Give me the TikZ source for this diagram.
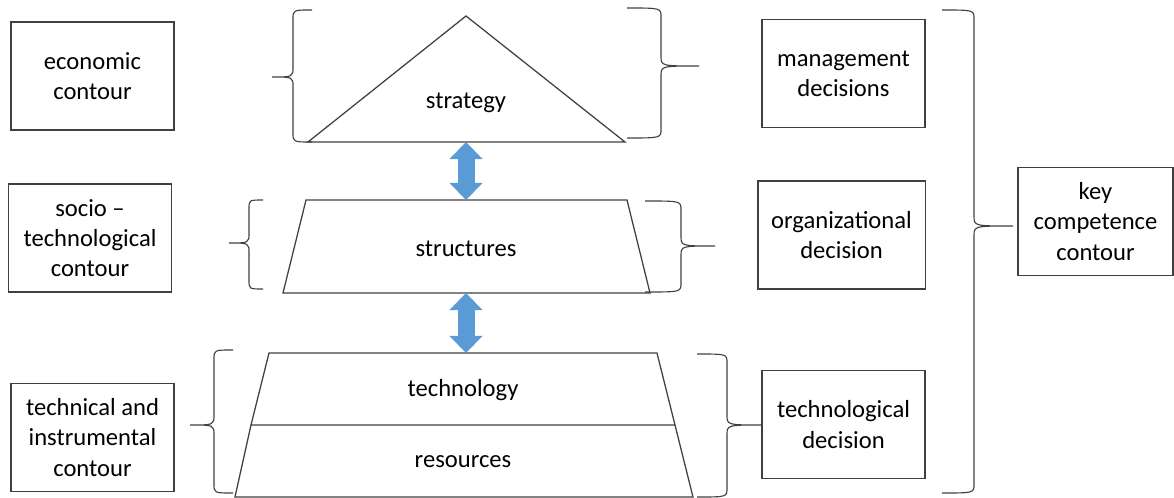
\documentclass[tikz,border=0pt]{standalone}
\usepackage{fontspec}
\setmainfont{Carlito}
\usetikzlibrary{arrows.meta,positioning}
\definecolor{linkblue}{HTML}{5B9BD5}
\tikzset{
  txt/.style={font=\fontsize{17.5}{21.5}\selectfont},
  box/.style={
    txt, draw=black!75, line width=0.9pt, align=center, inner sep=0pt,
    minimum width=4.075cm, minimum height=2.7cm
  },
  outline/.style={draw=black!75, line width=0.9pt, line join=miter},
  brace line/.style={draw=black!75, line width=0.8pt},
  link/.style={
    draw=linkblue, line width=0.425cm,
    {Triangle[width=0.825cm,length=0.425cm,line width=0pt]}-{Triangle[width=0.825cm,length=0.425cm,line width=0pt]}
  }
}
% curly brace: end x, spine x, tip x, top y, bottom y, tip y
\newcommand{\curlyb}[6]{%
  \draw[brace line] (#1,#4) .. controls (#2,#4) .. (#2,{#4+9})
    -- (#2,{#6-10}) .. controls (#2,#6) .. (#3,#6)
    .. controls (#2,#6) .. (#2,{#6+10})
    -- (#2,{#5-9}) .. controls (#2,#5) .. (#1,#5);}

\begin{document}
\begin{tikzpicture}[x=0.025cm, y=-0.025cm]
  \useasboundingbox (0,0) rectangle (1174,498);

  % contours on the left
  \node[box] (econ) at (92.5,76) {economic\\contour};
  \node[box] (socio) at (90,238) {socio –\\technological\\contour};
  \node[box] (techinst) at (92.5,437.5) {technical and\\instrumental\\contour};

  % pyramid: strategy on top
  \coordinate (apex) at (466,16);
  \coordinate (baseL) at (308,142);
  \coordinate (baseR) at (625,142);
  \coordinate (strategybase) at (466,142);
  \draw[outline] (apex) -- (baseR) -- (baseL) -- cycle;
  \node[txt] (strategy) at (466,103) {strategy};

  % structures
  \coordinate (structTop) at (466,200);
  \coordinate (structBot) at (466,293);
  \draw[outline] (306,200) -- (627,200) -- (650,293) -- (283,293) -- cycle;
  \node[txt] (structures) at (466,249) {structures};

  % technology over resources
  \coordinate (techTop) at (466,353);
  \draw[outline] (269,353) -- (657,353) -- (675,425) -- (251,425) -- cycle;
  \draw[outline] (251,425) -- (235,497) -- (693,497) -- (675,425);
  \node[txt] (technology) at (463,390) {technology};
  \node[txt] (resources) at (463,462) {resources};

  \draw[link] (strategybase) -- (structTop);
  \draw[link] (structBot) -- (techTop);

  % decisions on the right
  \node[box] (mgmt) at (843.5,73.5) {management\\decisions};
  \node[box, minimum width=4.18cm] (orgdec) at (841.5,235) {organizational\\decision};
  \node[box] (techdec) at (843.5,424.5) {technological\\decision};
  \node[box, minimum width=3.875cm] (keycomp) at (1095.5,221.5) {key\\competence\\contour};

  % braces
  \curlyb{312}{293}{272}{10}{142}{77}
  \curlyb{627}{661}{699}{8}{138}{66}
  \curlyb{263}{249}{229}{200}{289}{243}
  \curlyb{645}{681}{715}{201}{292}{246}
  \curlyb{233}{214}{190}{350}{493}{425}
  \curlyb{697}{727}{762}{354}{497}{425}
  \curlyb{942}{974}{1013}{10}{493}{226}
\end{tikzpicture}
\end{document}
